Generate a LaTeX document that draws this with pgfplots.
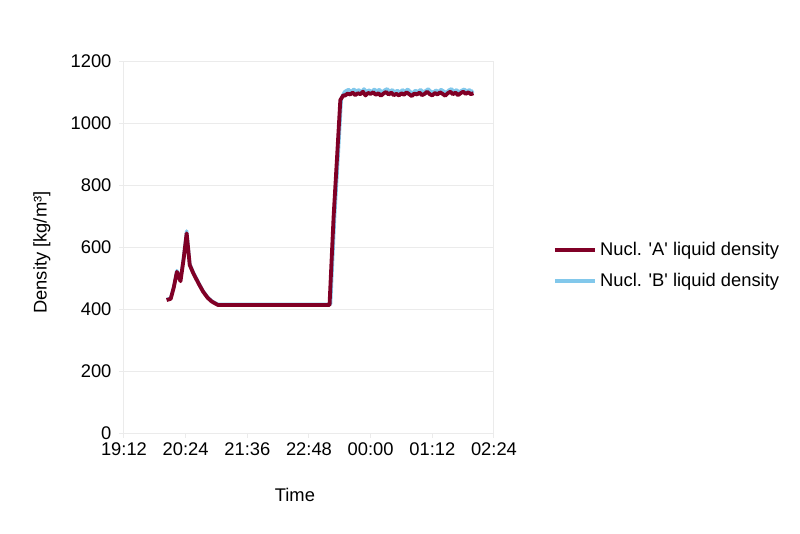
\documentclass[border=0pt]{standalone}
\usepackage{pgfplots}
\pgfplotsset{compat=1.18}
\usepackage{fontspec}
\setmainfont{Liberation Sans}

\definecolor{nuclA}{RGB}{128,0,38}
\definecolor{nuclB}{RGB}{130,200,235}
\definecolor{faint}{RGB}{235,235,235}

% time in hours after midnight of the first day (24 = 00:00)
\pgfplotstableread{
t rho
20.03 429
20.11 433
20.17 470
20.23 520
20.30 490
20.36 560
20.42 644
20.48 542
20.55 515
20.65 483
20.74 456
20.83 436
20.91 424
21.03 413
22.00 413
23.20 413
23.28 700
23.35 900
23.41 1074
23.47 1090
23.50 1088
23.55 1095
23.60 1092
23.65 1098
23.70 1090
23.75 1096
23.80 1093
23.85 1101
23.90 1089
23.95 1097
24.00 1094
24.05 1099
24.10 1091
24.15 1096
24.20 1088
24.25 1095
24.30 1100
24.35 1092
24.40 1098
24.45 1090
24.50 1094
24.55 1089
24.60 1096
24.65 1091
24.70 1099
24.75 1093
24.80 1087
24.85 1095
24.90 1092
24.95 1098
25.00 1090
25.05 1094
25.10 1101
25.15 1093
25.20 1089
25.25 1097
25.30 1092
25.35 1099
25.40 1094
25.45 1088
25.50 1096
25.55 1101
25.60 1093
25.65 1098
25.70 1090
25.75 1096
25.80 1101
25.85 1094
25.90 1099
25.95 1093
26.00 1096
}\nuclA

\pgfplotstableread{
t rho
20.03 431
20.11 435
20.17 472
20.23 524
20.30 494
20.36 566
20.42 652
20.48 546
20.55 518
20.65 486
20.74 458
20.83 438
20.91 426
21.03 415
22.00 415
23.22 415
23.30 700
23.37 900
23.43 1080
23.49 1100
23.52 1104
23.57 1108
23.62 1101
23.67 1109
23.72 1103
23.77 1107
23.82 1100
23.87 1110
23.92 1102
23.97 1106
24.02 1101
24.07 1109
24.12 1103
24.17 1108
24.22 1099
24.27 1106
24.32 1110
24.37 1102
24.42 1107
24.47 1100
24.52 1105
24.57 1099
24.62 1107
24.67 1102
24.72 1109
24.77 1101
24.82 1097
24.87 1105
24.92 1101
24.97 1108
25.02 1100
25.07 1104
25.12 1110
25.17 1102
25.22 1099
25.27 1106
25.32 1101
25.37 1108
25.42 1103
25.47 1098
25.52 1106
25.57 1110
25.62 1102
25.67 1107
25.72 1100
25.77 1105
25.82 1109
25.87 1103
25.92 1107
25.97 1101
26.00 1104
}\nuclB

\begin{document}
\begin{tikzpicture}
\begin{axis}[
    scale only axis,
    width=222pt, height=223.2pt,
    xmin=19.2, xmax=26.4,
    ymin=0, ymax=1200,
    xtick={19.2,20.4,21.6,22.8,24,25.2,26.4},
    xticklabels={19:12,20:24,21:36,22:48,00:00,01:12,02:24},
    ytick={0,200,...,1200},
    ymajorgrids,
    grid style={faint, line width=0.6pt},
    axis line style={faint, line width=0.6pt},
    tick style={faint, line width=0.6pt},
    tick align=outside,
    major tick length=3pt,
    xtick pos=bottom, ytick pos=left,
    font=\fontsize{11}{13}\selectfont,
    /pgf/number format/assume math mode=true,
    /pgf/number format/1000 sep={},
    xticklabel style={yshift=0.5pt},
    yticklabel style={xshift=-1pt},
    xlabel={Time},
    ylabel={Density [kg/m³]},
    xlabel style={at={(axis description cs:0.462,-0.167)}, anchor=center},
    ylabel style={at={(axis description cs:-0.222,0.485)}, anchor=center},
    clip=false,
    reverse legend,
    legend cell align=left,
    legend style={draw=none, fill=none, at={(axis description cs:1.145,0.45)},
        anchor=west, row sep=5pt, font=\fontsize{11}{13}\selectfont},
    legend image code/.code={\draw[#1] (0pt,0pt) -- (24pt,0pt);},
]
\path (rel axis cs:-0.335,1.164) rectangle (rel axis cs:1.827,-0.269);
\addplot[nuclB, line width=2pt, line join=round] table[x=t, y=rho] {\nuclB};
\addlegendentry{Nucl. \textquotesingle B\textquotesingle\ liquid density}
\addplot[nuclA, line width=2.3pt, line join=round] table[x=t, y=rho] {\nuclA};
\addlegendentry{Nucl. \textquotesingle A\textquotesingle\ liquid density}
\end{axis}
\end{tikzpicture}
\end{document}
